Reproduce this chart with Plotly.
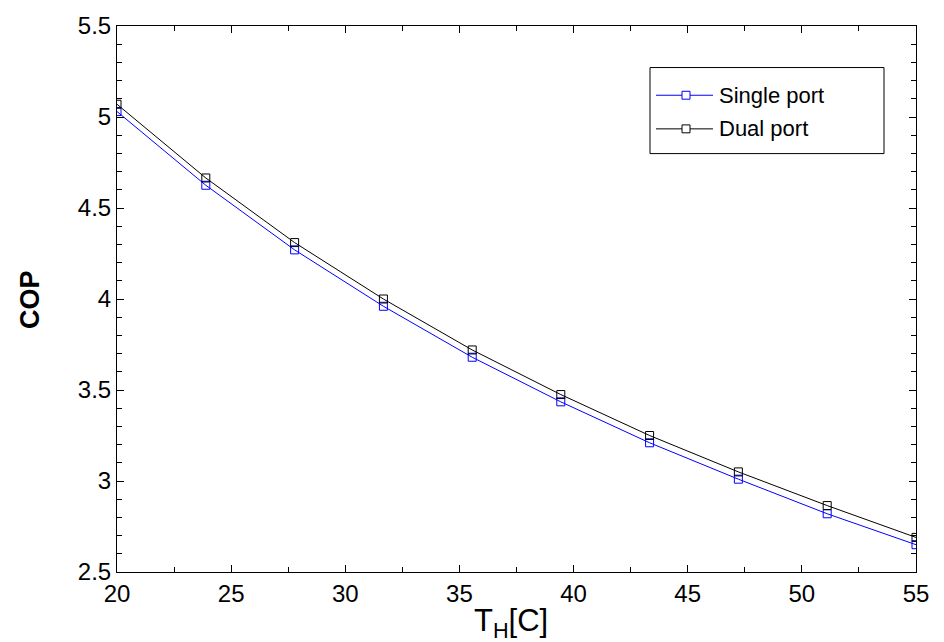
import plotly.graph_objects as go

# ---- data ----
t_h = [20, 23.89, 27.78, 31.67, 35.56, 39.44, 43.33, 47.22, 51.11, 55]
cop_single = [5.03, 4.625, 4.27, 3.96, 3.68, 3.435, 3.21, 3.01, 2.82, 2.65]
cop_dual = [5.07, 4.665, 4.31, 4.00, 3.72, 3.475, 3.25, 3.05, 2.865, 2.69]
series_names = ["Single port", "Dual port"]
series_colors = ["#0000FF", "#000000"]
x_ticks = [20, 25, 30, 35, 40, 45, 50, 55]
y_ticks = [2.5, 3, 3.5, 4, 4.5, 5, 5.5]

W, H = 944, 642
L, R, T, B = 117, 28, 20, 70
PW, PH = W - L - R, H - T - B

def px(xp):
    return (xp - L) / PW

def py(yp):
    return (H - B - yp) / PH

FONT = "Liberation Sans, Arial, sans-serif"

fig = go.Figure()
for name, ys, col in zip(series_names, [cop_single, cop_dual], series_colors):
    fig.add_trace(go.Scatter(
        x=t_h, y=ys, mode="lines+markers", name=name,
        line=dict(color=col, width=1),
        marker=dict(symbol="square-open", size=8, color=col, line=dict(width=1, color=col)),
        showlegend=False,
    ))

axis_common = dict(
    showline=True, linecolor="black", linewidth=1, mirror="allticks",
    ticks="inside", ticklen=7, tickcolor="black", tickwidth=1,
    showgrid=False, zeroline=False,
    tickfont=dict(family=FONT, size=24, color="black"),
)
fig.update_xaxes(range=[20, 55], tickvals=x_ticks, ticktext=[str(v) for v in x_ticks],
                 minor=dict(dtick=2.5, tick0=20, ticks="inside", ticklen=5, tickcolor="black", showgrid=False),
                 **axis_common)
fig.update_yaxes(range=[2.5, 5.5], tickvals=y_ticks, ticktext=[f"{v:g}" for v in y_ticks],
                 minor=dict(dtick=0.1, tick0=2.5, ticks="inside", ticklen=5, tickcolor="black", showgrid=False),
                 **axis_common)

shapes = []
annotations = []
# legend box
shapes.append(dict(type="rect", xref="paper", yref="paper",
                   x0=px(650), x1=px(884), y0=py(149), y1=py(62),
                   line=dict(color="black", width=1), fillcolor="white", layer="above"))
rows = [90, 124]
for name, col, yr in zip(series_names, series_colors, rows):
    shapes.append(dict(type="line", xref="paper", yref="paper",
                       x0=px(656), x1=px(713), y0=py(yr), y1=py(yr),
                       line=dict(color=col, width=1), layer="above"))
    shapes.append(dict(type="rect", xref="paper", yref="paper",
                       x0=px(682), x1=px(690), y0=py(yr + 4), y1=py(yr - 4),
                       line=dict(color=col, width=1), fillcolor="white", layer="above"))
    annotations.append(dict(text=name, xref="paper", yref="paper", x=px(717), y=py(yr),
                            xanchor="left", yanchor="middle", showarrow=False,
                            font=dict(family=FONT, size=22, color="black")))

annotations.append(dict(text="T<sub>H</sub>[C]", xref="paper", yref="paper",
                        x=px(511), y=py(624), xanchor="center", yanchor="middle",
                        showarrow=False, font=dict(family=FONT, size=31, color="black")))
annotations.append(dict(text="<b>COP</b>", xref="paper", yref="paper",
                        x=px(30), y=py(297), xanchor="center", yanchor="middle", textangle=-90,
                        showarrow=False, font=dict(family=FONT, size=27, color="black")))

fig.update_layout(
    width=W, height=H, margin=dict(l=L, r=R, t=T, b=B),
    paper_bgcolor="white", plot_bgcolor="white",
    shapes=shapes, annotations=annotations, showlegend=False,
)
fig.write_html("out.html")
